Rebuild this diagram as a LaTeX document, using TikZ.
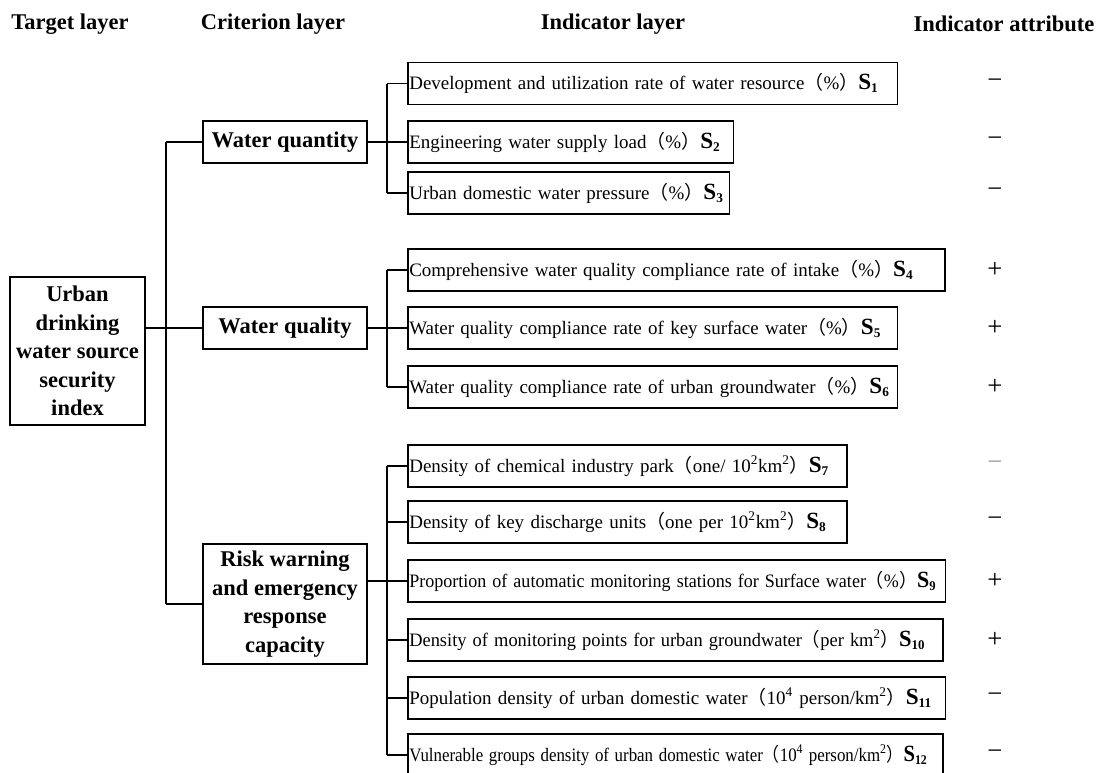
\documentclass[tikz,border=0pt]{standalone}
\usepackage{fontspec}
\usepackage{graphicx}
\setmainfont{Liberation Serif}
\newfontfamily\cjk{Noto Sans CJK SC}
\usepackage{tikz}
\usetikzlibrary{calc, shapes, arrows}
\newcommand{\lp}{{\cjk （}}
\newcommand{\rp}{{\cjk ）}}
\newcommand{\sidx}[1]{{\fontsize{16.5}{16}\selectfont\textbf{S}}\textsubscript{\textbf{#1}}}

\begin{document}
\begin{tikzpicture}
\tikzstyle{line} = [draw, line width=0.8pt]
\tikzstyle{bus} = [draw, line width=1.4pt]
\tikzstyle{head}=[font=\fontsize{16}{19}\selectfont\bfseries]
\tikzstyle{goal}=[rectangle,draw,line width=1.2pt,align=center,inner sep=1pt,font=\fontsize{16}{20.3}\selectfont\bfseries]
\tikzstyle{ind}=[rectangle,draw,line width=1.3pt,anchor=west,align=left,minimum height=1.05cm,inner xsep=1pt,font=\fontsize{13.5}{15}\selectfont]
\tikzstyle{sign}=[font=\fontsize{19}{19}\selectfont]
\useasboundingbox (0,0) rectangle (27.525,-19.3);

\node[head] (H_0) at (1.75,-0.6) {Target layer};
\node[head] (H_1) at (6.825,-0.6) {Criterion layer};
\node[head] (H_2) at (15.325,-0.6) {Indicator layer};
\node[head] (H_3) at (25.1,-0.6) {Indicator attribute};

\node[goal,minimum width=3.375cm,minimum height=3.7cm] (T) at (1.9375,-8.775) {Urban\\drinking\\water source\\security\\index};
\node[goal,minimum width=4.1cm,minimum height=1.05cm] (C_1) at (7.125,-3.55) {Water quantity};
\node[goal,minimum width=4.1cm,minimum height=1.05cm] (C_2) at (7.125,-8.2) {Water quality};
\node[goal,minimum width=4.1cm,minimum height=3cm] (C_3) at (7.125,-15.1) {Risk warning\\and emergency\\response\\capacity};

\node[ind,text width=12.17cm] (S_1) at (10.175,-2.0875) {Development and utilization rate of water resource\lp\%\rp\sidx{1}};
\node[ind,text width=8.07cm] (S_2) at (10.175,-3.55) {Engineering water supply load\lp\%\rp\sidx{2}};
\node[ind,text width=7.97cm] (S_3) at (10.175,-4.825) {Urban domestic water pressure\lp\%\rp\sidx{3}};
\node[ind,text width=13.35cm] (S_4) at (10.175,-6.75) {Comprehensive water quality compliance rate of intake\lp\%\rp\sidx{4}};
\node[ind,text width=12.17cm] (S_5) at (10.175,-8.2) {Water quality compliance rate of key surface water\lp\%\rp\sidx{5}};
\node[ind,text width=12.17cm] (S_6) at (10.175,-9.675) {Water quality compliance rate of urban groundwater\lp\%\rp\sidx{6}};
\node[ind,text width=10.9cm] (S_7) at (10.175,-11.65) {Density of chemical industry park\lp one/ 10\textsuperscript{2}km\textsuperscript{2}\rp\sidx{7}};
\node[ind,text width=10.9cm] (S_8) at (10.175,-13.05) {Density of key discharge units\lp one per 10\textsuperscript{2}km\textsuperscript{2}\rp\sidx{8}};
\node[ind,text width=13.37cm] (S_9) at (10.175,-14.525) {\scalebox{0.95}[1]{Proportion of automatic monitoring stations for Surface water\lp\%\rp\sidx{9}}};
\node[ind,text width=13.3cm] (S_10) at (10.175,-16) {\scalebox{0.97}[1]{Density of monitoring points for urban groundwater\lp per km\textsuperscript{2}\rp\sidx{10}}};
\node[ind,text width=13.37cm] (S_11) at (10.175,-17.45) {Population density of urban domestic water\lp 10\textsuperscript{4} person/km\textsuperscript{2}\rp\sidx{11}};
\node[ind,text width=13.3cm] (S_12) at (10.175,-18.875) {\scalebox{0.89}[1]{Vulnerable groups density of urban domestic water\lp 10\textsuperscript{4} person/km\textsuperscript{2}\rp\sidx{12}}};

\node[sign] (A_1) at (24.875,-2.0875) {−};
\node[sign] (A_2) at (24.875,-3.55) {−};
\node[sign] (A_3) at (24.875,-4.825) {−};
\node[sign] (A_4) at (24.875,-6.75) {+};
\node[sign] (A_5) at (24.875,-8.2) {+};
\node[sign] (A_6) at (24.875,-9.675) {+};
\node[sign,black!40] (A_7) at (24.875,-11.65) {−};
\node[sign] (A_8) at (24.875,-13.05) {−};
\node[sign] (A_9) at (24.875,-14.525) {+};
\node[sign] (A_10) at (24.875,-16) {+};
\node[sign] (A_11) at (24.875,-17.45) {−};
\node[sign] (A_12) at (24.875,-18.875) {−};

% main trunk
\coordinate (M) at (4.15,0);
\coordinate (B) at (9.675,0);
\path [line] (T.east |- C_2.west) -- (C_2.west);
\path [line] (M |- C_1.west) -- (M |- C_3.west);
\path [line] (M |- C_1.west) -- (C_1.west);
\path [line] (M |- C_3.west) -- (C_3.west);

% indicator branches
\path [line] (C_1.east) -- (S_2.west);
\path [line] (C_2.east) -- (S_5.west);
\path [line] (S_9.west -| C_3.east) -- (S_9.west);
\path [bus] (B |- S_1.west) -- (B |- S_3.west);
\path [bus] (B |- S_4.west) -- (B |- S_6.west);
\path [bus] (B |- S_7.west) -- (B |- S_12.west);
\foreach \i in {1,3,4,6,7,8,10,11,12}
  \path [bus] (B |- S_\i.west) -- (S_\i.west);

\end{tikzpicture}
\end{document}
